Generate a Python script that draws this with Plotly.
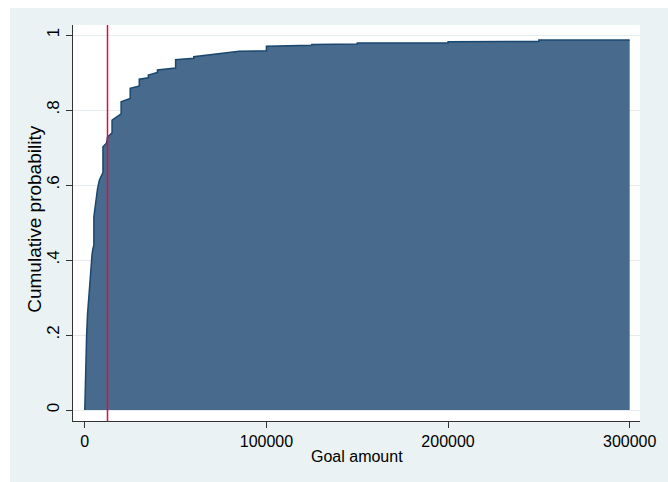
import plotly.graph_objects as go

# Cumulative distribution of goal amounts (sorted; repeated goals give vertical jumps)
goal_amount = [0, 200, 500, 1000, 1500, 2000, 2500, 3000, 3500, 4000, 4500, 5000, 5000,
               6000, 7000, 8000, 9000, 9500, 10000, 10000, 11000, 12000, 12500,
               15000, 15000, 17500, 20000, 20000, 25000, 25000, 30000, 30000,
               35000, 35000, 40000, 40000, 45000, 50000, 50000, 60000, 60000,
               65000, 70000, 75000, 80000, 85000, 100000, 100000, 125000, 125000,
               150000, 150000, 200000, 200000, 250000, 250000, 300000]
cum_prob = [0.0, 0.05, 0.12, 0.20, 0.255, 0.29, 0.32, 0.36, 0.39, 0.415, 0.43, 0.44, 0.515,
            0.56, 0.59, 0.613, 0.625, 0.630, 0.633, 0.702, 0.707, 0.712, 0.728,
            0.739, 0.773, 0.782, 0.790, 0.822, 0.831, 0.858, 0.864, 0.882,
            0.886, 0.893, 0.900, 0.907, 0.910, 0.912, 0.934, 0.938, 0.942,
            0.945, 0.948, 0.951, 0.955, 0.957, 0.958, 0.970, 0.9725, 0.975,
            0.976, 0.9787, 0.979, 0.982, 0.983, 0.9867, 0.9867]

ref_goal = 12500  # reference line

x_ticks = [0, 100000, 200000, 300000]
x_tick_labels = ["0", "100000", "200000", "300000"]
y_ticks = [0, 0.2, 0.4, 0.6, 0.8, 1]
y_tick_labels = ["0", ".2", ".4", ".6", ".8", "1"]

BG = "#EAF2F3"
FILL = "#486A8C"
EDGE = "#1A476F"
FONT = "Liberation Sans, Arial, sans-serif"

fig = go.Figure()
fig.add_trace(go.Scatter(
    x=goal_amount, y=cum_prob, mode="lines",
    fill="tozeroy", fillcolor=FILL,
    line=dict(color=EDGE, width=1.5),
    hoverinfo="x+y", showlegend=False,
))

# vertical reference line spanning the plot region
fig.add_shape(type="line", xref="x", yref="paper",
              x0=ref_goal, x1=ref_goal, y0=0, y1=1,
              line=dict(color="#E8083A", width=1.5), layer="above")

# white border strips along top and left of the graph region
fig.add_shape(type="rect", xref="paper", yref="paper",
              x0=-0.2, x1=1.2, y0=1.0429, y1=1.2,
              fillcolor="white", line=dict(width=0), layer="below")
fig.add_shape(type="rect", xref="paper", yref="paper",
              x0=-0.2, x1=-0.1109, y0=-0.3, y1=1.2,
              fillcolor="white", line=dict(width=0), layer="below")

fig.add_annotation(text="Goal amount", xref="paper", yref="paper",
                   x=0.5, y=-0.0886, xanchor="center", yanchor="middle",
                   showarrow=False, font=dict(family=FONT, size=16, color="#000"))
fig.add_annotation(text="Cumulative probability", xref="paper", yref="paper",
                   x=-0.0693, y=0.51, xanchor="center", yanchor="middle", textangle=-90,
                   showarrow=False, font=dict(family=FONT, size=19, color="#000"))

fig.update_layout(
    width=668, height=482,
    margin=dict(l=73, r=18, t=25, b=61),
    paper_bgcolor=BG, plot_bgcolor="white",
    font=dict(family=FONT, size=16, color="#000"),
    xaxis=dict(range=[-6492, 305681], tickvals=x_ticks, ticktext=x_tick_labels,
               showgrid=False, zeroline=False, showline=True, linecolor="#333",
               linewidth=1, ticks="outside", ticklen=6, tickcolor="#333",
               tickfont=dict(family=FONT, size=16, color="#000")),
    yaxis=dict(range=[-0.0293, 1.0267], tickvals=y_ticks, ticktext=y_tick_labels,
               showgrid=True, gridcolor="#E4ECEF", gridwidth=1, zeroline=False,
               showline=True, linecolor="#333", linewidth=1, ticks="outside",
               ticklen=6, tickcolor="#333", tickangle=-90,
               tickfont=dict(family=FONT, size=17, color="#000")),
)

fig.write_html("out.html")
